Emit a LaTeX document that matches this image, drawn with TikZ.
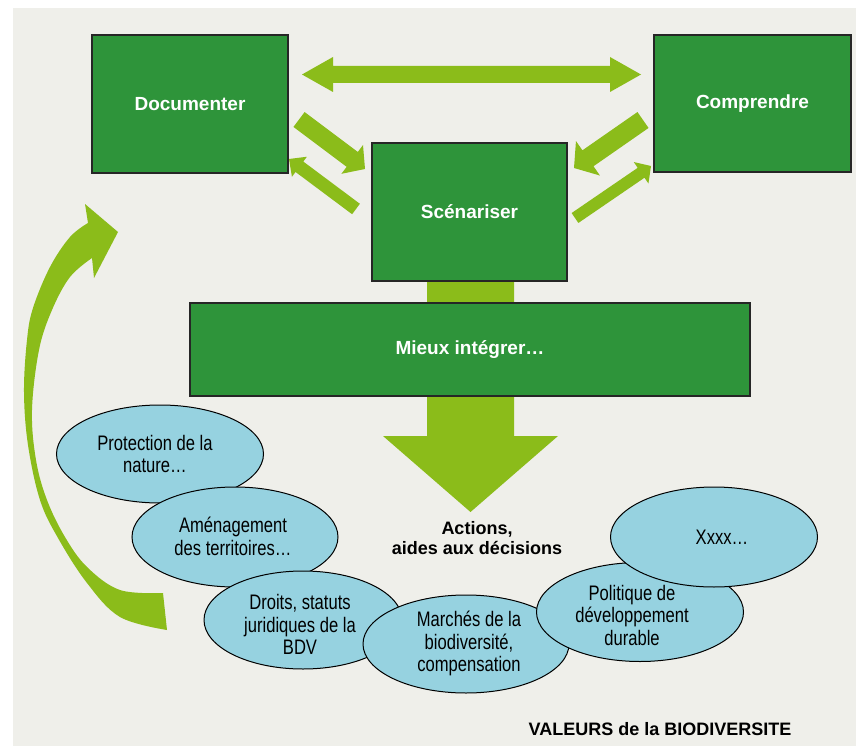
\documentclass[tikz,border=0pt]{standalone}
\usepackage{fontspec}
\setmainfont{Liberation Sans}
\newfontfamily\narrowfont{Liberation Sans}[FakeStretch=0.79]
\usetikzlibrary{calc,shapes.geometric}
\definecolor{bggray}{RGB}{239,239,234}
\definecolor{boxgreen}{RGB}{46,148,58}
\definecolor{arrowgreen}{RGB}{139,188,26}
\definecolor{ellblue}{RGB}{150,210,224}
\newcommand\blockarrow[5]{%
  \path ($(#2)!#5!(#1)$) coordinate (hb);
  \fill[arrowgreen] ($(#1)!#3!90:(#2)$) -- ($(hb)!#3!90:(#2)$) -- ($(hb)!#4!90:(#2)$) -- (#2)
    -- ($(hb)!#4!-90:(#2)$) -- ($(hb)!#3!-90:(#2)$) -- ($(#1)!#3!-90:(#2)$) -- cycle;}
\tikzset{
  box/.style={draw=black!85, line width=1.2pt, fill=boxgreen, text=white,
    font=\bfseries\fontsize{19}{22}\selectfont, inner sep=0pt},
  ell/.style={ellipse, draw=black, line width=1pt, fill=ellblue, inner sep=0pt},
  etext/.style={align=center, inner sep=0pt, font=\narrowfont\fontsize{21}{22.5}\selectfont},
  btext/.style={align=center, inner sep=0pt, font=\bfseries\fontsize{18}{20}\selectfont},
}
\begin{document}
\begin{tikzpicture}[x=1pt,y=-1pt]
\useasboundingbox (0,0) rectangle (856,746);
\fill[bggray] (13,8) rectangle (856,746);

% trunk arrow down
\fill[arrowgreen] (427,270) -- (427,436) -- (383,436) -- (470.5,512) -- (558,436) -- (514,436) -- (514,270) -- cycle;

% double arrow
\coordinate (dl) at (302,74.5);
\coordinate (dr) at (641,74.5);
\fill[arrowgreen] (dl) -- (333,57) -- (333,66) -- (610,66) -- (610,57) -- (dr)
  -- (610,92) -- (610,83) -- (333,83) -- (333,92) -- cycle;

% diagonal arrows
\coordinate (aAs) at (299,119.5); \coordinate (aAe) at (365,169);
\blockarrow{aAs}{aAe}{9.3pt}{18pt}{16pt}
\coordinate (aBs) at (356,209); \coordinate (aBe) at (289,159);
\blockarrow{aBs}{aBe}{6.5pt}{12.5pt}{13pt}
\coordinate (aCs) at (643,120); \coordinate (aCe) at (574,168);
\blockarrow{aCs}{aCe}{9.7pt}{21pt}{17pt}
\coordinate (aDs) at (575,218); \coordinate (aDe) at (651,166);
\blockarrow{aDs}{aDe}{6pt}{13pt}{12pt}

% curved arrow
\fill[arrowgreen] plot[smooth, tension=0.6] coordinates {(167,630) (120,617) (87,583) (58,538) (40,500) (28,445) (24,392) (27,340) (33,308) (50,267) (70,237) (88,223)}
  -- (85,204) -- (118,232) -- (94,278) -- (92,258)
  -- plot[smooth, tension=0.6] coordinates {(92,258) (70,277) (52,310) (39,350) (32,410) (36,460) (47,500) (65,537) (87,567) (120,590) (163,593)}
  -- cycle;

% boxes
\node[box, minimum width=196pt, minimum height=138pt] (doc) at (190,104) {\raisebox{-4pt}{Documenter}};
\node[box, minimum width=197pt, minimum height=137pt] (comp) at (752.5,103.5) {\raisebox{-2.5pt}{Comprendre}};
\node[box, minimum width=195pt, minimum height=138pt] (scen) at (469.5,212) {Scénariser};
\node[box, minimum width=560pt, minimum height=93pt] (mieux) at (470,349.5) {\raisebox{-3.5pt}{Mieux intégrer…}};

% text
\node[btext] (act) at (477,538) {Actions,\\aides aux décisions};
\node[inner sep=0pt, font=\bfseries\fontsize{18}{20}\selectfont] (val) at (660,729) {VALEURS de la BIODIVERSITE};

% ellipses
\node[ell, minimum width=207pt, minimum height=98pt] (e1) at (160,454) {};
\node[etext] (t1) at (155,454) {Protection de la\\nature…};
\node[ell, minimum width=206pt, minimum height=100pt] (e2) at (235,537) {};
\node[etext] (t2) at (233,536.5) {Aménagement\\des territoires…};
\node[ell, minimum width=198pt, minimum height=98pt] (e3) at (303,620) {};
\node[etext] (t3) at (300,624.5) {Droits, statuts\\juridiques de la\\BDV};
\node[ell, minimum width=206pt, minimum height=98pt] (e4) at (466,644) {};
\node[etext] (t4) at (469,643.5) {Marchés de la\\biodiversité,\\compensation};
\node[ell, minimum width=207pt, minimum height=99pt] (e5) at (640,612) {};
\node[etext] (t5) at (632,615) {Politique de\\développement\\durable};
\node[ell, minimum width=207pt, minimum height=100pt] (e6) at (714,537) {};
\node[etext] (t6) at (722,537) {Xxxx…};
\end{tikzpicture}
\end{document}
